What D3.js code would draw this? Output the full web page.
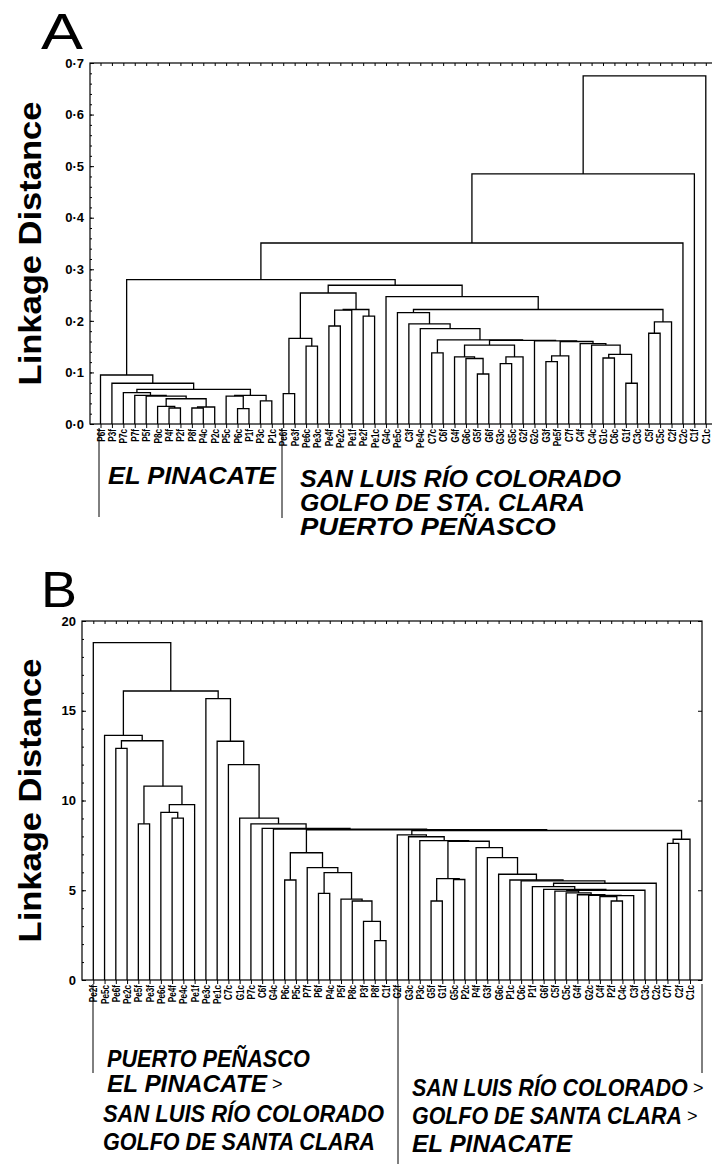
<!DOCTYPE html>
<html>
<head>
<meta charset="utf-8">
<script src="https://cdn.jsdelivr.net/npm/d3@7"></script>
<style>
  body { margin: 0; background: #fff; }
  text { font-family: "Liberation Sans", Arial, sans-serif; }
</style>
</head>
<body>
<svg width="712" height="1164"></svg>
<script>
// ---- panel A data ----
var leavesA = ['P6f','P3f','P7c','P7f','P5f','P8c','P4f','P2f','P8f','P4c','P2c','P5c','P6c','P1f','P3c','P1c',
  'Pe6f','Pe3f','Pe6c','Pe3c','Pe4f','Pe2c','Pe1f','Pe2f','Pe1c','G4c','Pe5c','C3f','Pe4c','C7c','C6f',
  'G4f','G6c','G5f','G6f','G3c','G5c','G2f','G2c','G3f','Pe5f','C7f','C4f','C4c','G1c','C6c','G1f','C3c',
  'C5f','C5c','C2f','C2c','C1f','C1c'];

// [id, left, right, linkage distance]
var mergesA = [
  ['p1','P4f','P2f',0.031], ['p2','P8c','p1',0.034], ['p3','P8f','P4c',0.031], ['p4','p3','P2c',0.033],
  ['p5','p2','p4',0.049], ['p6','P5f','p5',0.054], ['p7','P7f','p6',0.0556], ['p8','P7c','p7',0.061],
  ['p9','P6c','P1f',0.030], ['p10','P5c','p9',0.054], ['p11','P3c','P1c',0.045], ['p12','p10','p11',0.0556],
  ['p13','p8','p12',0.067], ['p14','P3f','p13',0.079], ['p15','P6f','p14',0.095],
  ['e1','Pe6f','Pe3f',0.059], ['e2','Pe6c','Pe3c',0.151], ['e3','e1','e2',0.166],
  ['e4','Pe4f','Pe2c',0.19], ['e5','e4','Pe1f',0.221], ['e6','Pe2f','Pe1c',0.209], ['e7','e5','e6',0.222],
  ['e8','e3','e7',0.254],
  ['g1','C7c','C6f',0.138],
  ['q1','G5f','G6f',0.097], ['q2','G6c','q1',0.127], ['q3','G4f','q2',0.13],
  ['q4','G3c','G5c',0.117], ['q5','q4','G2f',0.13], ['q6','q3','q5',0.153],
  ['r1','G3f','Pe5f',0.121], ['r2','r1','C7f',0.132], ['r3','G1c','C6c',0.128], ['r4','G1f','C3c',0.079],
  ['r5','r3','r4',0.135], ['r6','C4c','r5',0.153], ['r7','C4f','r6',0.156], ['r8','r2','r7',0.16],
  ['r9','G2c','r8',0.161], ['a6','q6','r9',0.162], ['a4','g1','a6',0.163],
  ['a3','Pe4c','a4',0.185], ['a2','C3f','a3',0.194], ['a1','Pe5c','a2',0.216],
  ['b1','C5f','C5c',0.176], ['b2','b1','C2f',0.198],
  ['x1','a1','b2',0.222], ['v1','G4c','x1',0.247], ['t1','e8','v1',0.269], ['s1','p15','t1',0.28],
  ['r3a','s1','C2c',0.351], ['r2a','r3a','C1f',0.485], ['r1a','r2a','C1c',0.675]
];
var ticksA = [0, 0.1, 0.2, 0.3, 0.4, 0.5, 0.6, 0.7];

// ---- panel B data ----
var leavesB = ['Pe2f','Pe5c','Pe6f','Pe2c','Pe5f','Pe3f','Pe6c','Pe4f','Pe4c','Pe1f','Pe3c','Pe1c','C7c','G1c',
  'P7c','C6f','G4c','P6c','P5c','P7f','P6f','P4c','P5f','P8c','P3f','P8f','C1f',
  'G2f','G3c','P3c','G5f','G1f','G5c','P2c','P4f','G3f','G6c','P1c','C6c','P1f','G6f','C5f','C5c','G4f',
  'G2c','C4f','P2f','C4c','C3f','C3c','C2c','C7f','C2f','C1c'];

var mergesB = [
  ['a1','Pe6f','Pe2c',12.9], ['a2','Pe5f','Pe3f',8.7], ['a3','Pe4f','Pe4c',9.02], ['a4','Pe6c','a3',9.34],
  ['a5','a4','Pe1f',9.77], ['a6','a2','a5',10.8], ['a7','a1','a6',13.33], ['a8','Pe5c','a7',13.63],
  ['b1','P6c','P5c',5.57], ['b2','P6f','P4c',4.83], ['b3','P8f','C1f',2.19], ['b4','P3f','b3',3.27],
  ['b5','P8c','b4',4.40], ['b6','P5f','b5',4.51], ['b7','b2','b6',5.98], ['b8','P7f','b7',6.26],
  ['b9','b1','b8',7.09],
  ['c1','G5f','G1f',4.4], ['c2','G5c','P2c',5.6], ['c3','c1','c2',5.65],
  ['n1','P2f','C4c',4.4], ['n2','C4f','n1',4.65], ['n3','n2','C3f',4.7], ['n4','G2c','n3',4.72],
  ['n5','G4f','n4',4.75], ['n6','C5c','n5',4.85], ['n7','C5f','n6',4.95], ['n8','n7','C3c',5.0],
  ['n9','G6f','n8',5.05], ['n10','P1f','n9',5.2], ['n11','n10','C2c',5.39], ['n12','C6c','n11',5.52],
  ['n13','P1c','n12',5.57], ['n14','G6c','n13',5.89], ['n15','G3f','n14',6.82], ['n16','P4f','n15',7.37],
  ['c4','c3','n16',7.73], ['c5','P3c','c4',7.76], ['c6','G3c','c5',7.98], ['c7','G2f','c6',8.08],
  ['c8','C7f','C2f',7.61], ['c9','c8','C1c',7.84], ['c10','c7','c9',8.33],
  ['d1','b9','c10',8.37], ['d2','G4c','d1',8.41], ['d3','C6f','d2',8.45], ['d4','P7c','d3',8.7],
  ['d5','G1c','d4',9.02], ['d6','C7c','d5',12.0], ['d7','Pe1c','d6',13.3], ['d8','Pe3c','d7',15.67],
  ['d9','a8','d8',16.1], ['d10','Pe2f','d9',18.8]
];
var ticksB = [0, 5, 10, 15, 20];

var svg = d3.select('svg');

// squeeze a text horizontally so it ends up exactly w pixels wide
function fitText(sel, x, y, w, extra) {
  var nat = sel.node().getComputedTextLength();
  sel.attr('transform', 'translate(' + x + ',' + y + ')' + (extra || '') + ' scale(' + (w / nat) + ',1)');
}

function buildTree(merges) {
  var byId = {};
  merges.forEach(function (m) { byId[m[0]] = m; });
  function node(ref) {
    var m = byId[ref];
    if (!m) return { id: ref, h: 0 };
    return { id: m[0], h: m[3], children: [node(m[1]), node(m[2])] };
  }
  return d3.hierarchy(node(merges[merges.length - 1][0]));
}

function drawPanel(o) {
  var g = svg.append('g');
  var x = d3.scalePoint().domain(o.leaves).range(o.xr);
  var y = d3.scaleLinear().domain(o.yd).range([o.bottom, o.top]);
  var root = buildTree(o.merges);

  root.eachAfter(function (d) {
    d.x = d.children ? (d.children[0].x + d.children[1].x) / 2 : x(d.data.id);
  });

  // frame
  g.append('rect')
    .attr('x', o.left).attr('y', o.top)
    .attr('width', o.right - o.left).attr('height', o.bottom - o.top)
    .attr('fill', 'none').attr('stroke', '#000').attr('stroke-width', 1.2);

  // leaf ticks top (inward) and bottom (outward)
  g.append('g').attr('transform', 'translate(0,' + o.top + ')')
    .call(d3.axisTop(x).tickSize(-3).tickFormat(''))
    .call(function (s) { s.select('.domain').remove(); });
  g.append('g').attr('transform', 'translate(0,' + o.bottom + ')')
    .call(d3.axisBottom(x).tickSize(4).tickFormat(''))
    .call(function (s) { s.select('.domain').remove(); });

  // y axis: minor + major ticks pointing inside
  g.append('g').attr('transform', 'translate(' + o.left + ',0)')
    .call(d3.axisLeft(y).tickValues(o.minor).tickSize(-2).tickFormat(''))
    .call(function (s) { s.select('.domain').remove(); });
  var ya = g.append('g').attr('transform', 'translate(' + o.left + ',0)')
    .call(d3.axisLeft(y).tickValues(o.ticks).tickSize(-4).tickPadding(6).tickFormat(o.fmt))
    .call(function (s) { s.select('.domain').remove(); });
  ya.selectAll('text').attr('font-size', 13).attr('font-weight', 'bold')
    .attr('font-family', '"Liberation Sans", Arial, sans-serif');
  if (o.rightTicks) {
    g.append('g').attr('transform', 'translate(' + o.right + ',0)')
      .call(d3.axisRight(y).tickValues(o.ticks).tickSize(-4).tickFormat(''))
      .call(function (s) { s.select('.domain').remove(); });
  }
  g.selectAll('.tick line').attr('stroke', '#000');

  // dendrogram links
  var cg = g.append('g').attr('fill', 'none').attr('stroke', '#000').attr('stroke-width', 1.3);
  root.descendants().filter(function (d) { return d.children; }).forEach(function (d) {
    var a = d.children[0], b = d.children[1];
    cg.append('path').attr('d',
      'M' + a.x + ',' + y(a.data.h) + 'V' + y(d.data.h) + 'H' + b.x + 'V' + y(b.data.h));
  });

  // leaf labels
  g.append('g').selectAll('text').data(o.leaves).enter().append('text')
    .attr('transform', function (d) {
      return 'translate(' + (x(d) + 4) + ',' + (o.bottom + 5) + ') rotate(-90) scale(0.74,1)';
    })
    .attr('text-anchor', 'end')
    .attr('font-size', 11).attr('font-weight', 'bold')
    .text(function (d) { return d; });

  // y title
  var t = g.append('text')
    .attr('text-anchor', 'middle')
    .attr('font-size', 31).attr('font-weight', 'bold')
    .text('Linkage Distance');
  fitText(t, o.titleX, (o.top + o.bottom) / 2, 284, ' rotate(-90)');

  // panel letter
  var l = g.append('text')
    .attr('font-family', '"Liberation Serif", "Times New Roman", serif')
    .attr('font-size', 50).text(o.letter);
  fitText(l, o.letterX, o.letterY, o.letterW);
}

drawPanel({
  letter: 'A', letterX: 41, letterY: 49, letterW: 42,
  leaves: leavesA, merges: mergesA,
  left: 90, right: 713, top: 63, bottom: 424,
  xr: [100.5, 705.8], yd: [0, 0.7],
  ticks: ticksA, minor: d3.range(0, 0.7001, 0.02),
  fmt: function (v) { return d3.format('.1f')(v).replace('.', '\u00b7'); },
  titleX: 41, rightTicks: false
});

drawPanel({
  letter: 'B', letterX: 41, letterY: 607, letterW: 36,
  leaves: leavesB, merges: mergesB,
  left: 82, right: 702, top: 621, bottom: 980,
  xr: [93.3, 690], yd: [0, 20],
  ticks: ticksB, minor: d3.range(0, 20.001, 1),
  fmt: d3.format('d'),
  titleX: 41, rightTicks: true
});

// group brackets and region names
var ann = svg.append('g').attr('stroke', '#000').attr('stroke-width', 1);
[[99, 428, 517], [282, 428, 518], [93, 984, 1073], [398, 984, 1164], [702, 984, 1073]].forEach(function (l) {
  ann.append('line').attr('x1', l[0]).attr('x2', l[0]).attr('y1', l[1]).attr('y2', l[2]);
});

var names = [
  ['EL PINACATE', 108, 484, 168, false],
  ['SAN LUIS R\u00cdO COLORADO', 300, 487, 321, false],
  ['GOLFO DE STA. CLARA', 300, 511, 285, false],
  ['PUERTO PE\u00d1ASCO', 300, 535, 256, false],
  ['PUERTO PE\u00d1ASCO', 107, 1067, 203, false],
  ['EL PINACATE', 107, 1092, 160, true],
  ['SAN LUIS R\u00cdO COLORADO', 103, 1122, 281, false],
  ['GOLFO DE SANTA CLARA', 103, 1150, 272, false],
  ['SAN LUIS R\u00cdO COLORADO', 412, 1096, 276, true],
  ['GOLFO DE SANTA CLARA', 412, 1124, 270, true],
  ['EL PINACATE', 412, 1152, 160, false]
];
names.forEach(function (n) {
  var t = svg.append('text')
    .attr('font-size', 24).attr('font-weight', 'bold').attr('font-style', 'italic')
    .text(n[0]);
  fitText(t, n[1], n[2], n[3]);
  if (n[4]) {
    svg.append('text').attr('x', n[1] + n[3] + 5).attr('y', n[2] - 2)
      .attr('font-family', '"Liberation Serif", serif').attr('font-size', 18)
      .text('>');
  }
});
</script>
</body>
</html>
